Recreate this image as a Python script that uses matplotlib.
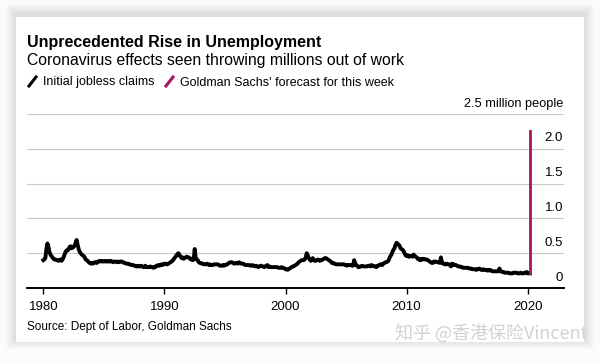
import numpy as np
import matplotlib.pyplot as plt
import matplotlib.transforms as mtransforms
from matplotlib.patches import Rectangle
from matplotlib.lines import Line2D

plt.rcParams['font.family'] = ['Liberation Sans', 'DejaVu Sans']

# weekly claims, averaged by month, thousands (1980 .. Mar 2020)
claims_by_year = {
    1980: [400, 410, 430, 560, 640, 600, 520, 480, 460, 440, 420, 410],
    1981: [410, 400, 400, 390, 400, 410, 390, 410, 440, 480, 520, 540],
    1982: [540, 560, 590, 600, 570, 580, 590, 610, 650, 690, 620, 560],
    1983: [520, 500, 480, 470, 460, 440, 410, 400, 390, 370, 360, 350],
    1984: [360, 350, 360, 370, 370, 360, 380, 380, 390, 380, 390, 380],
    1985: [380, 390, 380, 380, 390, 380, 380, 390, 380, 370, 380, 380],
    1986: [380, 370, 380, 370, 380, 380, 380, 370, 360, 360, 350, 350],
    1987: [350, 340, 340, 330, 330, 330, 320, 320, 310, 310, 320, 310],
    1988: [310, 320, 310, 300, 300, 320, 300, 300, 300, 300, 310, 300],
    1989: [300, 290, 300, 300, 320, 320, 330, 320, 330, 340, 330, 340],
    1990: [350, 350, 340, 340, 350, 360, 370, 380, 390, 410, 430, 450],
    1991: [470, 490, 500, 470, 450, 430, 440, 420, 430, 440, 450, 440],
    1992: [440, 430, 410, 420, 400, 410, 560, 430, 410, 400, 370, 360],
    1993: [360, 350, 350, 340, 340, 340, 350, 340, 330, 340, 330, 330],
    1994: [330, 340, 340, 340, 340, 340, 330, 320, 320, 320, 330, 320],
    1995: [330, 330, 340, 350, 360, 370, 370, 370, 360, 350, 350, 360],
    1996: [360, 350, 370, 360, 350, 350, 350, 340, 330, 330, 330, 330],
    1997: [330, 320, 320, 330, 320, 320, 310, 320, 310, 300, 310, 320],
    1998: [320, 310, 310, 300, 310, 320, 330, 300, 310, 300, 300, 300],
    1999: [300, 300, 300, 300, 300, 290, 290, 290, 300, 290, 290, 280],
    2000: [270, 270, 260, 270, 280, 290, 300, 310, 310, 320, 330, 340],
    2001: [350, 370, 380, 390, 400, 400, 400, 410, 440, 500, 470, 430],
    2002: [410, 390, 410, 430, 400, 390, 390, 400, 410, 400, 390, 400],
    2003: [400, 410, 420, 430, 430, 420, 410, 400, 390, 380, 360, 360],
    2004: [350, 350, 340, 340, 340, 340, 340, 340, 340, 340, 340, 330],
    2005: [330, 320, 330, 330, 330, 330, 320, 320, 400, 360, 330, 320],
    2006: [300, 300, 310, 310, 320, 310, 310, 310, 310, 310, 320, 320],
    2007: [310, 330, 320, 320, 310, 310, 300, 320, 320, 330, 340, 340],
    2008: [330, 350, 360, 370, 370, 380, 390, 430, 460, 480, 520, 550],
    2009: [570, 620, 650, 640, 620, 610, 570, 560, 550, 530, 500, 470],
    2010: [460, 470, 450, 450, 460, 460, 450, 480, 460, 450, 440, 420],
    2011: [420, 400, 400, 420, 410, 420, 410, 410, 410, 400, 390, 380],
    2012: [370, 360, 360, 380, 380, 380, 370, 370, 370, 360, 440, 370],
    2013: [350, 350, 340, 340, 350, 340, 340, 330, 310, 350, 330, 340],
    2014: [330, 330, 320, 310, 310, 310, 300, 300, 290, 290, 290, 290],
    2015: [290, 290, 280, 280, 280, 270, 270, 270, 270, 260, 270, 270],
    2016: [280, 270, 260, 260, 270, 260, 260, 260, 250, 260, 250, 260],
    2017: [250, 240, 240, 240, 240, 240, 240, 240, 280, 240, 240, 230],
    2018: [230, 220, 220, 220, 220, 220, 210, 210, 210, 210, 220, 220],
    2019: [220, 220, 210, 210, 210, 220, 210, 210, 210, 220, 220, 230],
    2020: [210, 210, 210],
}

# Goldman Sachs forecast for the week (millions)
forecast_date = 2020.22
forecast_value = 2.25

year_ticks = [1980, 1990, 2000, 2010, 2020]
y_ticks = [0, 0.5, 1.0, 1.5, 2.0]
y_labels = ['0', '0.5', '1.0', '1.5', '2.0']

dates = []
claims = []
for yr, vals in claims_by_year.items():
    for m, v in enumerate(vals):
        dates.append(yr + m / 12)
        claims.append(v / 1000)

W, H = 600, 363
fig = plt.figure(figsize=(6, 3.63), dpi=100)
fig.patch.set_facecolor('#fbfbfb')

# card with a soft shadow (drawn behind the axes)
for k in range(10, 0, -1):
    fig.patches.append(Rectangle(((16 - k) / W, (H - 342 - k + 3) / H), (568 + 2 * k) / W, (325 + 2 * k) / H,
                                 transform=fig.transFigure, facecolor='#000000', alpha=0.012, lw=0, zorder=-10))
fig.patches.append(Rectangle((16 / W, (H - 342) / H), 568 / W, 325 / H,
                             transform=fig.transFigure, facecolor='white', lw=0, zorder=-5))

ax = fig.add_axes([27 / W, (H - 288) / H, (564 - 27) / W, (288 - 114) / H])
ax.set_facecolor('none')
ax.set_xlim(1978.65, 2023.0)
ax.set_ylim(0, 2.5)

for v in y_ticks[1:] + [2.5]:
    ax.axhline(v, color='#c8c8c8', lw=0.8, zorder=0)

ax.plot(dates, claims, color='black', lw=2.8, solid_joinstyle='round', zorder=3)
ax.plot([forecast_date, forecast_date], [claims[-1], forecast_value], color='#a8145a', lw=2.0, zorder=4)

for s in ['top', 'left', 'right']:
    ax.spines[s].set_visible(False)
ax.spines['bottom'].set_linewidth(1.4)
ax.set_yticks([])
ax.set_xticks(year_ticks)
ax.set_xticklabels([str(y) for y in year_ticks])
ax.tick_params(axis='x', length=4, width=1, pad=5, labelsize=9.5)

# value labels sit just above their gridlines, on the right
off = mtransforms.offset_copy(ax.get_yaxis_transform(), fig=fig, x=-0.7, y=5.3, units='points')
for v, lab in zip(y_ticks, y_labels):
    ax.text(1.0, v, lab, transform=off, ha='right', va='baseline', fontsize=9.5)
ax.text(1.0, 2.5, '2.5 million people', transform=off, ha='right', va='baseline', fontsize=9.2)

fig.text(27 / W, 1 - 46.5 / H, 'Unprecedented Rise in Unemployment', fontsize=11.5, fontweight='bold', va='baseline')
fig.text(27 / W, 1 - 65.5 / H, 'Coronavirus effects seen throwing millions out of work', fontsize=11.3, va='baseline')

# legend
fig.lines.append(Line2D([29 / W, 36 / W], [1 - 86 / H, 1 - 77 / H], transform=fig.transFigure, color='black', lw=2.2))
fig.text(43 / W, 1 - 85.5 / H, 'Initial jobless claims', fontsize=9, va='baseline')
fig.lines.append(Line2D([166 / W, 173 / W], [1 - 86 / H, 1 - 77 / H], transform=fig.transFigure, color='#a8145a', lw=2.2))
fig.text(180 / W, 1 - 85.5 / H, "Goldman Sachs' forecast for this week", fontsize=9, va='baseline')

fig.text(27 / W, 1 - 330 / H, 'Source: Dept of Labor, Goldman Sachs', fontsize=8.5, va='baseline')

fig.text(587 / W, 1 - 339 / H, '知乎 @香港保险Vincent', fontsize=13, color='#d2d2d2',
         ha='right', va='baseline', family=['Noto Sans CJK SC', 'DejaVu Sans'])

fig.savefig('out.png', dpi=100, facecolor=fig.get_facecolor())
